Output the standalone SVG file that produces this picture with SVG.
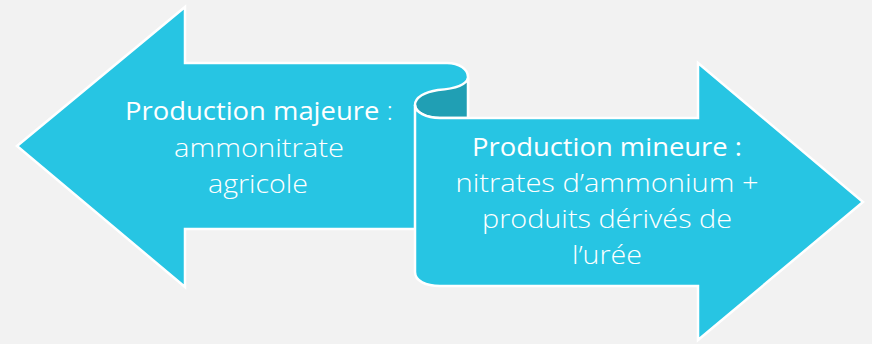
<svg xmlns="http://www.w3.org/2000/svg" width="872" height="344" viewBox="0 0 872 344">
<style>
.shape{fill:#27c5e3;stroke:#ffffff;stroke-width:2.5;stroke-linejoin:miter}
.dark{fill:#209fb4;stroke:#ffffff;stroke-width:2.5}
.t{font-family:"Open Sans","Liberation Sans",sans-serif;font-size:26px;fill:#ffffff;text-anchor:middle}
.b{font-weight:400}
.l{font-weight:300}
</style>
<rect x="0" y="0" width="872" height="344" fill="#f2f2f2"/>
<g id="left-arrow">
<path class="shape" d="M17,146 L185,7 L185,63 L447,63 C459,63 468,69 468,77 L468,229 L185,229 L185,287 Z"/>
<path class="dark" d="M468,78 C466,86 452,89 438,90 C425,92 415,97 415,105 C415,112 426,118 440,118 L468,118 Z"/>
<text class="t l" x="259" y="120" textLength="268" lengthAdjust="spacingAndGlyphs"><tspan class="b">Production majeure</tspan> :</text>
<text class="t l" x="259" y="156.5" textLength="170" lengthAdjust="spacingAndGlyphs">ammonitrate</text>
<text class="t l" x="258" y="192.5" textLength="100" lengthAdjust="spacingAndGlyphs">agricole</text>
</g>
<g id="right-arrow">
<path class="shape" d="M415,105 C415,112 426,118 440,118 L698,118 L698,63 L863,202 L698,340 L698,286 L440,286 C426,286 415,281 415,272 Z"/>
<text class="t b" x="607" y="156" textLength="270" lengthAdjust="spacingAndGlyphs">Production mineure :</text>
<text class="t l" x="607" y="192" textLength="303" lengthAdjust="spacingAndGlyphs">nitrates d’ammonium +</text>
<text class="t l" x="607" y="228" textLength="250" lengthAdjust="spacingAndGlyphs">produits dérivés de</text>
<text class="t l" x="607" y="264" textLength="70" lengthAdjust="spacingAndGlyphs">l’urée</text>
</g>
<g id="connectors"/>
</svg>
